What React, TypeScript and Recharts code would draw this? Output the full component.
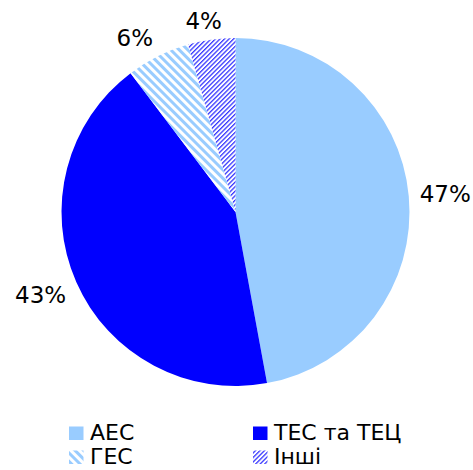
import { Cell, Legend, Pie, PieChart } from "recharts";

// share of electricity generation by source, %
const sources = ["АЕС", "ТЕС та ТЕЦ", "ГЕС", "Інші"];
const shares = [47.1, 42.6, 5.9, 4.4];

const sliceFills = ["#99ccff", "#0000ff", "url(#HatchHes)", "url(#HatchOther)"];
const swatchFills = ["#99ccff", "#0000ff", "url(#lgHatchHes)", "url(#lgHatchOther)"];

const data = sources.map((name, i) => ({ name, value: shares[i] }));

const FONT = '"DejaVu Sans", Verdana, sans-serif';
const RADIAN = Math.PI / 180;
const LABEL_SIZE = 23;

function clamp1(v: number) {
  return Math.max(-1, Math.min(1, v));
}

function SliceLabel(props: any) {
  const { cx, cy, midAngle, outerRadius, percent } = props;
  const text = `${Math.round(percent * 100)}%`;
  const cos = Math.cos(-midAngle * RADIAN);
  const sin = Math.sin(-midAngle * RADIAN);
  const r = outerRadius + 11;
  const px = cx + r * cos;
  const py = cy + r * sin;
  // push the label box outwards so its inner edge sits near the rim
  const w = LABEL_SIZE * (0.636 * (text.length - 1) + 0.95);
  const h = LABEL_SIZE * 0.73;
  const x = px + (w / 2) * clamp1(cos * 2.5);
  const y = py + (h / 2) * clamp1(sin * 2.5);
  return (
    <text
      x={x}
      y={y + h / 2}
      textAnchor="middle"
      fill="#000"
      style={{ fontFamily: FONT, fontSize: LABEL_SIZE }}
    >
      {text}
    </text>
  );
}

function HatchDefs({ prefix }: { prefix: string }) {
  return (
    <defs>
      <pattern
        id={`${prefix}HatchHes`}
        patternUnits="userSpaceOnUse"
        width={6}
        height={6}
        patternTransform="rotate(-45)"
      >
        <rect width={6} height={6} fill="#ffffff" />
        <rect width={3} height={6} fill="#99ccff" />
      </pattern>
      <pattern
        id={`${prefix}HatchOther`}
        patternUnits="userSpaceOnUse"
        width={3.2}
        height={3.2}
        patternTransform="rotate(45)"
      >
        <rect width={3.2} height={3.2} fill="#ffffff" />
        <rect width={1.3} height={3.2} fill="#3838ff" />
      </pattern>
    </defs>
  );
}

function LegendGrid() {
  const colX = [69, 253];
  const rowY = [20, 44];
  return (
    <svg width={473} height={50} style={{ display: "block" }}>
      <HatchDefs prefix="lg" />
      {sources.map((name, i) => {
        const x = colX[i % 2];
        const y = rowY[Math.floor(i / 2)];
        return (
          <g key={name}>
            <rect x={x} y={y - 13.5} width={14.5} height={13.5} fill={swatchFills[i]} />
            <text x={x + 21} y={y} fill="#000" style={{ fontFamily: FONT, fontSize: 22 }}>
              {name}
            </text>
          </g>
        );
      })}
    </svg>
  );
}

export default function App() {
  return (
    <div style={{ position: "absolute", left: 0, top: 0, width: 473, height: 470, background: "#fff" }}>
      <PieChart width={473} height={470} margin={{ top: 0, right: 0, bottom: 0, left: 0 }}>
        <HatchDefs prefix="" />
        <Pie
          data={data}
          dataKey="value"
          nameKey="name"
          cx={235.5}
          cy={212}
          outerRadius={174}
          startAngle={90}
          endAngle={-270}
          stroke="none"
          label={SliceLabel}
          labelLine={false}
          isAnimationActive={false}
        >
          {data.map((d, i) => (
            <Cell key={d.name} fill={sliceFills[i]} />
          ))}
        </Pie>
        <Legend
          content={() => <LegendGrid />}
          wrapperStyle={{ position: "absolute", left: 0, top: 420, width: 473, height: 50 }}
        />
      </PieChart>
    </div>
  );
}
